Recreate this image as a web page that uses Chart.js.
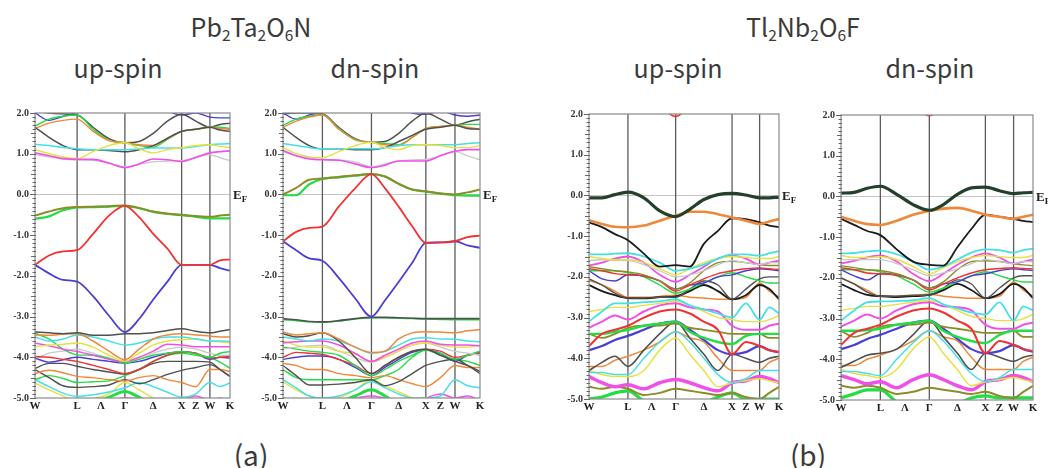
<!DOCTYPE html>
<html><head><meta charset="utf-8">
<script src="https://cdn.jsdelivr.net/npm/chart.js@4.4.0/dist/chart.umd.min.js"></script>
<style>
html,body{margin:0;padding:0;background:#fff;width:1048px;height:468px;overflow:hidden;position:relative;font-family:'Noto Sans CJK JP','Noto Sans',sans-serif;color:#3a3a3a;}
.t{position:absolute;white-space:nowrap;transform:translateX(-50%);line-height:1;}
.t sub{font-size:0.62em;vertical-align:-0.28em;line-height:0;}
canvas{position:absolute;}
</style></head><body>
<div class="t" style="left:251px;top:14px;font-size:25px">Pb<sub>2</sub>Ta<sub>2</sub>O<sub>6</sub>N</div>
<div class="t" style="left:118px;top:55px;font-size:25px">up-spin</div>
<div class="t" style="left:375px;top:55px;font-size:25px">dn-spin</div>
<div class="t" style="left:803px;top:14px;font-size:25px">Tl<sub>2</sub>Nb<sub>2</sub>O<sub>6</sub>F</div>
<div class="t" style="left:678px;top:55px;font-size:25px">up-spin</div>
<div class="t" style="left:930px;top:55px;font-size:25px">dn-spin</div>
<div class="t" style="left:251px;top:440px;font-size:28px">(a)</div>
<div class="t" style="left:808px;top:440px;font-size:28px">(b)</div>
<script>
// k-path labels and high-symmetry positions (W, L, Γ, X, W, K)
const xLabelText = ['W','L','Λ','Γ','Δ','X','Z','W','K'];
const symA_up = [0,21.6,46.1,75.2,89.7,100];
const symA_dn = [0,20.0,44.9,72.5,87.3,100];
const symB_up = [0,20.5,45.6,75.3,89.8,100];
const symB_dn = [0,20.5,46.0,75.2,89.9,100];
// each band: 15 energies (eV) at W,·,·,L,·,·,Γ,·,·,·,X,(Z),W,·,K

// ---- Pb2Ta2O6N up-spin
const aUp_blueTop = [2.0,1.82,1.92,2.02,2.2,2.3,2.3,2.3,2.2,2.05,1.95,2.0,1.9,1.88,1.88];
const aUp_gray2 = [2.05,2.0,1.98,1.95,1.65,1.37,1.27,1.3,1.5,1.8,1.97,1.8,1.65,1.72,1.75];
const aUp_green1 = [1.68,1.85,1.92,1.95,1.6,1.33,1.27,1.2,1.16,1.35,1.55,1.6,1.65,1.65,1.62];
const aUp_orange1 = [1.62,1.75,1.82,1.85,1.55,1.32,1.27,1.22,1.2,1.37,1.55,1.6,1.65,1.62,1.6];
const aUp_gray1 = [1.65,1.4,1.2,1.1,1.1,1.08,1.05,1.1,1.2,1.38,1.55,1.6,1.65,1.58,1.55];
const aUp_cyan1 = [1.23,1.2,1.15,1.12,1.1,1.1,1.1,1.12,1.14,1.14,1.14,1.18,1.22,1.24,1.25];
const aUp_yellow1 = [1.1,1.0,0.92,0.88,1.05,1.2,1.27,1.12,1.02,1.1,1.15,1.2,1.22,1.18,1.15];
const aUp_lgray1 = [0.98,0.92,0.87,0.85,0.84,0.76,0.68,0.74,0.8,0.82,0.83,0.9,0.98,0.9,0.83];
const aUp_pink1 = [1.02,0.95,0.88,0.86,0.86,0.77,0.66,0.75,0.87,0.85,0.81,0.91,1.02,1.05,1.07];
const aUp_olive = [-0.52,-0.42,-0.34,-0.31,-0.3,-0.29,-0.27,-0.33,-0.42,-0.47,-0.5,-0.53,-0.55,-0.52,-0.5];
const aUp_green = [-0.6,-0.54,-0.39,-0.32,-0.31,-0.3,-0.28,-0.34,-0.43,-0.48,-0.51,-0.55,-0.59,-0.59,-0.59];
const aUp_red = [-1.73,-1.5,-1.4,-1.37,-0.97,-0.52,-0.28,-0.56,-0.97,-1.33,-1.73,-1.73,-1.73,-1.62,-1.6];
const aUp_blue = [-1.73,-1.94,-2.1,-2.14,-2.5,-2.98,-3.38,-3.06,-2.58,-2.14,-1.73,-1.73,-1.73,-1.81,-1.87];
const aUp_gray3 = [-3.38,-3.4,-3.42,-3.4,-3.46,-3.46,-3.42,-3.42,-3.4,-3.34,-3.3,-3.36,-3.4,-3.36,-3.32];
const aUp_orange2 = [-3.45,-3.46,-3.43,-3.42,-3.6,-3.85,-4.06,-3.8,-3.55,-3.45,-3.42,-3.45,-3.48,-3.5,-3.5];
const aUp_cyan2 = [-3.5,-3.6,-3.55,-3.45,-3.5,-3.6,-3.7,-3.65,-3.55,-3.5,-3.5,-3.55,-3.6,-3.6,-3.61];
const aUp_yellow2 = [-3.74,-3.7,-3.68,-3.65,-3.75,-3.95,-4.1,-3.9,-3.7,-3.6,-3.57,-3.55,-3.6,-3.62,-3.65];
const aUp_pink2 = [-3.65,-3.72,-3.8,-3.86,-3.95,-4.05,-4.1,-4.0,-3.85,-3.68,-3.7,-3.74,-3.74,-3.74,-3.74];
const aUp_green2 = [-3.41,-3.55,-3.8,-3.94,-3.95,-4.02,-4.14,-4.05,-3.95,-3.9,-3.86,-3.92,-4.0,-3.9,-3.86];
const aUp_red2 = [-3.98,-4.0,-4.05,-4.1,-4.2,-4.3,-4.4,-4.3,-4.1,-3.95,-3.87,-3.9,-4.02,-4.0,-3.98];
const aUp_blue2 = [-4.02,-4.12,-4.06,-4.0,-4.05,-4.1,-4.14,-4.1,-4.0,-3.9,-3.86,-3.9,-4.05,-4.0,-4.02];
const aUp_lgray2 = [-4.05,-3.9,-3.85,-3.8,-3.9,-4.05,-4.14,-4.05,-3.9,-3.8,-3.75,-3.8,-3.9,-3.95,-3.95];
const aUp_gray4 = [-4.27,-4.15,-4.15,-4.22,-4.3,-4.36,-4.41,-4.3,-4.15,-4.1,-4.1,-4.1,-4.12,-4.3,-4.47];
const aUp_orange3 = [-4.4,-4.32,-4.38,-4.47,-4.5,-4.55,-4.58,-4.5,-4.45,-4.55,-4.62,-4.72,-4.3,-4.3,-4.35];
const aUp_gray5 = [-4.3,-4.5,-4.7,-4.74,-4.72,-4.68,-4.55,-4.65,-4.55,-4.42,-4.32,-4.25,-4.18,-4.3,-4.47];
const aUp_green3 = [-4.55,-4.45,-4.52,-4.62,-4.6,-4.58,-4.45,-4.3,-4.1,-3.95,-3.9,-3.95,-4.0,-4.12,-4.27];
const aUp_cyan3 = [-4.55,-4.72,-4.88,-4.96,-4.92,-4.85,-4.75,-4.62,-4.72,-4.86,-4.98,-4.9,-4.62,-4.72,-4.63];
const aUp_yellow3 = [-4.63,-4.8,-4.95,-5.1,-5.02,-4.9,-4.62,-4.8,-5.0,-5.1,-5.1,-5.1,-5.1,-5.1,-5.1];
const aUp_green4 = [-5.2,-5.2,-5.2,-5.2,-5.1,-4.98,-4.84,-4.98,-5.15,-5.2,-5.2,-5.2,-5.2,-5.2,-5.2];
const aUp_pink3 = [-5.1,-5.05,-5.1,-5.15,-5.1,-5.05,-5.0,-5.02,-5.1,-5.1,-5.05,-4.95,-5.05,-5.0,-5.1];

// ---- Pb2Ta2O6N dn-spin
const aDn_blueTop = [2.0,1.85,1.95,2.02,2.2,2.3,2.3,2.3,2.2,2.0,1.97,2.05,1.95,1.92,1.95];
const aDn_gray2 = [1.98,2.0,2.0,1.98,1.65,1.37,1.28,1.3,1.5,1.8,2.0,1.85,1.7,1.78,1.85];
const aDn_green1 = [1.7,1.85,1.92,1.96,1.62,1.34,1.28,1.25,1.22,1.4,1.62,1.67,1.7,1.72,1.72];
const aDn_orange1 = [1.65,1.8,1.9,1.95,1.6,1.35,1.28,1.22,1.2,1.4,1.62,1.67,1.7,1.65,1.6];
const aDn_gray1 = [1.65,1.4,1.2,1.12,1.12,1.1,1.1,1.15,1.3,1.45,1.6,1.65,1.7,1.62,1.6];
const aDn_cyan1 = [1.25,1.2,1.15,1.12,1.12,1.12,1.12,1.15,1.2,1.22,1.22,1.22,1.22,1.25,1.27];
const aDn_yellow1 = [1.15,1.0,0.92,0.9,1.05,1.2,1.28,1.15,1.1,1.2,1.22,1.2,1.15,1.15,1.2];
const aDn_lgray1 = [1.05,0.95,0.9,0.86,0.85,0.8,0.68,0.75,0.82,0.85,0.86,0.95,1.05,0.95,0.85];
const aDn_pink1 = [1.08,0.95,0.87,0.85,0.84,0.75,0.66,0.72,0.82,0.82,0.82,0.95,1.06,1.1,1.1];
const aDn_olive = [0.0,0.16,0.36,0.39,0.43,0.47,0.5,0.44,0.26,0.12,0.08,0.02,0.0,0.05,0.12];
const aDn_green = [-0.02,-0.02,0.25,0.38,0.42,0.46,0.5,0.44,0.26,0.12,0.07,0.02,-0.02,-0.03,-0.03];
const aDn_red = [-1.15,-0.92,-0.82,-0.79,-0.3,0.15,0.5,0.15,-0.3,-0.78,-1.19,-1.18,-1.15,-1.05,-1.01];
const aDn_blue = [-1.15,-1.37,-1.57,-1.63,-2.05,-2.55,-3.0,-2.6,-2.15,-1.68,-1.19,-1.18,-1.15,-1.25,-1.31];
const aDn_gray3 = [-3.05,-3.08,-3.12,-3.13,-3.1,-3.05,-3.02,-3.02,-3.03,-3.04,-3.05,-3.05,-3.05,-3.05,-3.05];
const aDn_green2 = [-3.08,-3.1,-3.13,-3.14,-3.11,-3.06,-3.03,-3.03,-3.04,-3.05,-3.06,-3.07,-3.08,-3.08,-3.08];
const aDn_orange2 = [-3.38,-3.45,-3.42,-3.4,-3.55,-3.75,-3.88,-3.85,-3.55,-3.4,-3.37,-3.38,-3.4,-3.35,-3.32];
const aDn_gray4 = [-3.42,-3.5,-3.47,-3.4,-3.6,-4.0,-4.4,-4.2,-4.0,-3.85,-3.8,-3.95,-4.1,-4.2,-4.35];
const aDn_cyan2 = [-3.5,-3.55,-3.6,-3.55,-3.6,-3.75,-3.9,-3.85,-3.7,-3.55,-3.52,-3.55,-3.56,-3.6,-3.62];
const aDn_pink2 = [-3.65,-3.62,-3.6,-3.6,-3.7,-3.9,-4.1,-3.95,-3.8,-3.65,-3.6,-3.68,-3.7,-3.7,-3.72];
const aDn_yellow2 = [-3.6,-3.7,-3.75,-3.75,-3.85,-3.92,-4.1,-4.0,-3.85,-3.7,-3.65,-3.7,-3.75,-3.75,-3.7];
const aDn_lgray2 = [-3.8,-3.75,-3.72,-3.7,-3.85,-4.0,-4.12,-4.0,-3.85,-3.7,-3.65,-3.75,-3.85,-3.9,-3.95];
const aDn_green3 = [-3.75,-3.8,-3.85,-3.88,-3.95,-4.2,-4.45,-4.3,-4.1,-3.95,-3.82,-3.9,-4.05,-3.95,-3.85];
const aDn_red2 = [-4.0,-3.88,-3.9,-3.93,-4.05,-4.2,-4.4,-4.2,-4.0,-3.85,-3.8,-3.85,-4.0,-3.95,-3.9];
const aDn_blue2 = [-4.05,-4.0,-3.97,-3.97,-4.05,-4.25,-4.45,-4.25,-4.05,-3.88,-3.82,-3.9,-4.1,-3.95,-3.88];
const aDn_gray5 = [-4.2,-4.45,-4.68,-4.68,-4.66,-4.62,-4.55,-4.7,-4.6,-4.4,-4.2,-4.1,-4.05,-4.2,-4.4];
const aDn_orange3 = [-4.15,-4.2,-4.3,-4.3,-4.4,-4.45,-4.5,-4.45,-4.55,-4.65,-4.72,-4.5,-4.2,-4.25,-4.25];
const aDn_green4 = [-4.3,-4.5,-4.55,-4.55,-4.55,-4.55,-4.55,-4.45,-4.3,-4.0,-3.82,-3.95,-4.05,-4.1,-4.2];
const aDn_cyan3 = [-4.55,-4.75,-4.95,-5.0,-4.95,-4.8,-4.6,-4.75,-4.9,-5.0,-5.0,-4.95,-4.55,-4.7,-4.75];
const aDn_yellow3 = [-4.6,-4.8,-4.95,-5.05,-5.0,-4.8,-4.55,-4.7,-4.85,-5.0,-5.1,-5.1,-5.1,-5.1,-5.0];
const aDn_green5 = [-5.2,-5.2,-5.2,-5.2,-5.1,-4.95,-4.8,-4.95,-5.15,-5.2,-5.2,-5.2,-5.2,-5.2,-5.2];
const aDn_pink3 = [-5.0,-5.05,-5.1,-5.1,-5.05,-5.0,-4.95,-5.0,-5.05,-5.1,-5.0,-4.9,-5.0,-4.95,-5.05];

// ---- Tl2Nb2O6F up-spin
const bUp_red0 = [2.6,2.6,2.6,2.6,2.5,2.2,1.94,2.2,2.5,2.6,2.6,2.6,2.6,2.6,2.6];
const bUp_dark = [-0.06,-0.06,0.02,0.08,-0.06,-0.38,-0.52,-0.34,-0.1,0.02,0.05,0.01,-0.06,-0.06,-0.04];
const bUp_orange = [-0.61,-0.7,-0.77,-0.78,-0.74,-0.62,-0.5,-0.4,-0.4,-0.46,-0.54,-0.62,-0.7,-0.64,-0.58];
const bUp_black = [-0.66,-0.78,-0.95,-1.1,-1.43,-1.75,-1.71,-1.75,-1.19,-0.87,-0.56,-0.58,-0.66,-0.74,-0.78];
const bUp_cyan = [-1.45,-1.45,-1.43,-1.42,-1.5,-1.65,-1.85,-1.8,-1.7,-1.55,-1.45,-1.45,-1.48,-1.42,-1.37];
const bUp_yellow = [-1.5,-1.55,-1.58,-1.58,-1.65,-1.8,-1.95,-1.8,-1.65,-1.55,-1.5,-1.52,-1.55,-1.55,-1.5];
const bUp_lgray = [-1.6,-1.58,-1.6,-1.6,-1.7,-1.85,-2.0,-1.95,-1.85,-1.7,-1.6,-1.65,-1.7,-1.65,-1.65];
const bUp_pink = [-1.72,-1.65,-1.55,-1.5,-1.65,-1.95,-2.12,-1.95,-1.75,-1.55,-1.48,-1.55,-1.7,-1.65,-1.6];
const bUp_olive = [-1.75,-1.8,-1.85,-1.88,-1.95,-2.1,-2.3,-2.15,-1.85,-1.65,-1.62,-1.65,-1.7,-1.72,-1.72];
const bUp_red = [-1.8,-1.85,-1.92,-1.95,-1.98,-2.1,-2.35,-2.2,-2.05,-1.92,-1.85,-1.8,-1.78,-1.8,-1.82];
const bUp_blue = [-1.85,-2.05,-2.1,-1.95,-1.98,-2.1,-2.3,-2.2,-2.15,-2.0,-1.95,-1.85,-1.8,-1.82,-1.85];
const bUp_green = [-1.85,-1.85,-1.85,-1.9,-2.0,-2.2,-2.4,-2.3,-2.15,-2.0,-1.9,-2.0,-2.1,-2.15,-2.15];
const bUp_gray = [-2.05,-2.2,-2.4,-2.52,-2.52,-2.5,-2.5,-2.3,-2.1,-2.2,-2.55,-2.3,-2.05,-2.0,-2.0];
const bUp_black2 = [-2.2,-2.35,-2.45,-2.52,-2.53,-2.5,-2.48,-2.35,-2.2,-2.35,-2.55,-2.45,-2.2,-2.3,-2.55];
const bUp_orange2 = [-2.08,-2.2,-2.35,-2.5,-2.5,-2.48,-2.45,-2.5,-2.52,-2.55,-2.55,-2.5,-2.15,-2.35,-2.5];
const bUp_cyan2 = [-3.1,-2.85,-2.65,-2.65,-2.62,-2.6,-2.55,-2.7,-2.8,-2.9,-3.0,-2.65,-3.05,-2.75,-2.9];
const bUp_yellow2 = [-2.85,-2.8,-2.75,-2.75,-2.7,-2.65,-2.6,-2.7,-2.85,-3.0,-3.05,-3.1,-3.1,-3.05,-2.95];
const bUp_pink2 = [-3.25,-3.1,-2.95,-3.05,-2.85,-2.7,-2.65,-2.75,-2.8,-2.85,-3.2,-3.3,-3.3,-3.2,-3.15];
const bUp_red2 = [-3.7,-3.4,-3.3,-3.2,-3.0,-2.85,-2.8,-2.9,-3.1,-3.3,-3.9,-3.6,-3.7,-3.8,-3.85];
const bUp_green2 = [-3.4,-3.4,-3.35,-3.3,-3.2,-3.15,-3.1,-3.35,-3.5,-3.6,-3.65,-3.45,-3.4,-3.4,-3.4];
const bUp_olive2 = [-3.4,-3.5,-3.4,-3.25,-3.2,-3.2,-3.15,-3.25,-3.3,-3.35,-3.4,-3.4,-3.4,-3.5,-3.5];
const bUp_blue2 = [-3.8,-3.7,-3.55,-3.45,-3.3,-3.15,-3.1,-3.3,-3.55,-3.8,-3.9,-3.85,-3.7,-3.8,-3.85];
const bUp_black3 = [-4.3,-4.1,-3.95,-4.2,-3.8,-3.4,-3.1,-3.5,-3.9,-4.3,-3.9,-4.0,-4.1,-4.0,-3.95];
const bUp_cyan3 = [-4.35,-4.35,-4.4,-4.4,-4.0,-3.6,-3.35,-3.6,-4.0,-4.4,-4.6,-4.5,-4.3,-4.3,-4.3];
const bUp_yellow3 = [-4.3,-4.4,-4.45,-4.45,-4.3,-3.8,-3.5,-3.9,-4.3,-4.7,-4.6,-4.55,-4.5,-4.55,-4.6];
const bUp_orange3 = [-4.2,-4.2,-4.05,-3.95,-3.8,-3.6,-3.35,-3.5,-3.6,-4.0,-4.3,-4.3,-4.3,-4.1,-4.0];
const bUp_pink3 = [-4.45,-4.6,-4.7,-4.65,-4.75,-4.6,-4.52,-4.6,-4.72,-4.8,-4.6,-4.55,-4.45,-4.5,-4.6];
const bUp_olive3 = [-4.7,-4.75,-4.7,-4.75,-4.9,-4.85,-4.75,-4.8,-4.85,-4.9,-4.85,-4.95,-5.0,-4.85,-4.7];
const bUp_green3 = [-5.0,-4.95,-4.85,-4.8,-5.05,-5.2,-5.2,-5.2,-5.1,-4.95,-4.85,-5.0,-5.0,-5.0,-5.0];

// ---- Tl2Nb2O6F dn-spin
const bDn_red0 = [2.6,2.6,2.6,2.6,2.5,2.25,1.98,2.25,2.5,2.6,2.6,2.6,2.6,2.6,2.6];
const bDn_dark = [0.08,0.1,0.2,0.25,0.05,-0.2,-0.34,-0.2,0.05,0.21,0.23,0.14,0.07,0.09,0.1];
const bDn_orange = [-0.5,-0.6,-0.68,-0.7,-0.6,-0.45,-0.35,-0.3,-0.28,-0.35,-0.45,-0.5,-0.55,-0.5,-0.45];
const bDn_black = [-0.55,-0.7,-0.85,-0.95,-1.3,-1.6,-1.68,-1.7,-1.25,-0.8,-0.45,-0.5,-0.55,-0.6,-0.63];
const bDn_cyan = [-1.4,-1.39,-1.35,-1.33,-1.42,-1.6,-1.8,-1.72,-1.55,-1.38,-1.3,-1.32,-1.38,-1.32,-1.28];
const bDn_yellow = [-1.45,-1.5,-1.5,-1.48,-1.55,-1.72,-1.9,-1.75,-1.6,-1.5,-1.45,-1.48,-1.5,-1.5,-1.45];
const bDn_lgray = [-1.55,-1.55,-1.55,-1.55,-1.65,-1.8,-1.95,-1.88,-1.78,-1.65,-1.55,-1.6,-1.65,-1.6,-1.6];
const bDn_pink = [-1.65,-1.58,-1.5,-1.45,-1.6,-1.9,-2.08,-1.9,-1.68,-1.5,-1.4,-1.5,-1.65,-1.6,-1.55];
const bDn_olive = [-1.7,-1.75,-1.8,-1.82,-1.9,-2.05,-2.25,-2.1,-1.8,-1.6,-1.58,-1.6,-1.65,-1.68,-1.7];
const bDn_red = [-1.75,-1.8,-1.88,-1.9,-1.93,-2.05,-2.3,-2.15,-2.0,-1.88,-1.8,-1.77,-1.75,-1.77,-1.78];
const bDn_blue = [-1.8,-1.95,-2.05,-1.9,-1.93,-2.05,-2.25,-2.15,-2.1,-1.95,-1.9,-1.82,-1.78,-1.8,-1.82];
const bDn_green = [-1.8,-1.8,-1.8,-1.85,-1.95,-2.15,-2.35,-2.25,-2.1,-1.95,-1.85,-1.95,-2.05,-2.1,-2.1];
const bDn_gray = [-2.0,-2.15,-2.35,-2.45,-2.45,-2.43,-2.42,-2.25,-2.05,-2.15,-2.5,-2.25,-2.0,-1.95,-1.95];
const bDn_black2 = [-2.15,-2.3,-2.42,-2.45,-2.47,-2.45,-2.42,-2.3,-2.15,-2.3,-2.5,-2.4,-2.15,-2.25,-2.5];
const bDn_orange2 = [-2.0,-2.15,-2.3,-2.45,-2.45,-2.42,-2.4,-2.45,-2.48,-2.5,-2.5,-2.45,-2.1,-2.3,-2.45];
const bDn_cyan2 = [-3.05,-2.8,-2.6,-2.58,-2.57,-2.55,-2.5,-2.65,-2.75,-2.85,-2.9,-2.6,-3.05,-2.7,-2.8];
const bDn_yellow2 = [-2.8,-2.75,-2.7,-2.7,-2.65,-2.6,-2.55,-2.65,-2.8,-2.95,-3.0,-3.05,-3.05,-3.0,-2.9];
const bDn_pink2 = [-3.2,-3.05,-2.9,-3.0,-2.8,-2.65,-2.6,-2.7,-2.72,-2.8,-3.15,-3.25,-3.25,-3.15,-3.1];
const bDn_red2 = [-3.65,-3.35,-3.25,-3.15,-2.95,-2.8,-2.75,-2.85,-3.05,-3.25,-3.85,-3.55,-3.65,-3.75,-3.8];
const bDn_green2 = [-3.3,-3.3,-3.28,-3.25,-3.15,-3.1,-3.05,-3.3,-3.45,-3.55,-3.6,-3.4,-3.3,-3.3,-3.3];
const bDn_olive2 = [-3.3,-3.45,-3.35,-3.2,-3.15,-3.15,-3.1,-3.2,-3.25,-3.3,-3.35,-3.35,-3.3,-3.45,-3.45];
const bDn_blue2 = [-3.75,-3.65,-3.5,-3.4,-3.25,-3.1,-3.05,-3.25,-3.5,-3.75,-3.85,-3.8,-3.65,-3.75,-3.82];
const bDn_black3 = [-4.2,-4.05,-3.9,-3.85,-3.75,-3.4,-3.05,-3.45,-3.85,-4.25,-3.85,-3.95,-4.05,-3.95,-3.9];
const bDn_cyan3 = [-4.3,-4.3,-4.35,-4.4,-4.0,-3.6,-3.3,-3.55,-3.95,-4.35,-4.55,-4.45,-4.25,-4.25,-4.25];
const bDn_yellow3 = [-4.25,-4.35,-4.4,-4.45,-4.25,-3.75,-3.45,-3.85,-4.25,-4.65,-4.55,-4.5,-4.45,-4.5,-4.55];
const bDn_orange3 = [-4.15,-4.15,-4.0,-3.9,-3.75,-3.55,-3.3,-3.45,-3.55,-3.95,-4.25,-4.25,-4.25,-4.05,-3.95];
const bDn_pink3 = [-4.4,-4.5,-4.6,-4.55,-4.7,-4.5,-4.38,-4.5,-4.65,-4.75,-4.55,-4.5,-4.4,-4.45,-4.55];
const bDn_olive3 = [-4.65,-4.7,-4.65,-4.7,-4.85,-4.8,-4.7,-4.75,-4.8,-4.85,-4.8,-4.9,-4.95,-4.8,-4.65];
const bDn_green3 = [-4.95,-4.85,-4.75,-4.75,-5.05,-5.2,-5.2,-5.2,-5.1,-4.95,-4.9,-4.95,-4.95,-4.95,-4.95];

// ---------- styles
const C = {red:'#f03232', blue:'#4a3fd2', green:'#22dd44', olive:'#8c8c28', orange:'#f0883a',
  pink:'#f050e8', cyan:'#44e0e8', yellow:'#e6e040', lgray:'#c8c8c8', gray:'#505050', black:'#1a1a1a', dark:'#25402a'};

function kx(sym){
  const seg=(a,b,n)=>Array.from({length:n},(_,i)=>a+(b-a)*i/n);
  return [...seg(sym[0],sym[1],3),...seg(sym[1],sym[2],3),...seg(sym[2],sym[3],4),...seg(sym[3],sym[4],2),...seg(sym[4],sym[5],2),sym[5]];
}

// bands listed bottom-of-stack first; the last one is painted on top
const panels = [
 {plotLeft:35, plotTop:109, plotW:195, plotH:289, sym:symA_up, bands:[
  [aUp_pink3,C.pink,1.5],[aUp_green4,C.green,3],[aUp_yellow3,C.yellow,1.4],[aUp_cyan3,C.cyan,1.5],[aUp_green3,C.green,1.4],
  [aUp_gray5,C.gray,1.4],[aUp_orange3,C.orange,1.4],[aUp_gray4,C.gray,1.4],[aUp_lgray2,C.lgray,1.3],[aUp_blue2,C.blue,1.4],
  [aUp_red2,C.red,1.4],[aUp_green2,C.green,1.4],[aUp_pink2,C.pink,1.5],[aUp_yellow2,C.yellow,1.4],[aUp_cyan2,C.cyan,1.5],
  [aUp_orange2,C.orange,1.5],[aUp_gray3,C.gray,1.5],
  [aUp_blueTop,C.blue,1.4],[aUp_gray2,C.gray,1.5],[aUp_green1,C.green,1.4],[aUp_orange1,C.orange,1.4],[aUp_gray1,C.gray,1.5],
  [aUp_cyan1,C.cyan,1.5],[aUp_yellow1,C.yellow,1.4],[aUp_lgray1,C.lgray,1.3],[aUp_pink1,C.pink,1.6],
  [aUp_green,C.green,2.2],[aUp_olive,C.olive,2.0],[aUp_blue,C.blue,1.8],[aUp_red,C.red,1.8]]},
 {plotLeft:283, plotTop:109, plotW:197, plotH:289, sym:symA_dn, bands:[
  [aDn_pink3,C.pink,1.5],[aDn_green5,C.green,3],[aDn_yellow3,C.yellow,1.4],[aDn_cyan3,C.cyan,1.5],[aDn_green4,C.green,1.4],
  [aDn_orange3,C.orange,1.4],[aDn_gray5,C.gray,1.4],[aDn_blue2,C.blue,1.4],[aDn_red2,C.red,1.4],[aDn_green3,C.green,1.4],
  [aDn_lgray2,C.lgray,1.3],[aDn_yellow2,C.yellow,1.4],[aDn_pink2,C.pink,1.5],[aDn_cyan2,C.cyan,1.5],[aDn_gray4,C.gray,1.5],
  [aDn_orange2,C.orange,1.5],[aDn_green2,C.green,1.5],[aDn_gray3,C.gray,1.6],
  [aDn_blueTop,C.blue,1.4],[aDn_gray2,C.gray,1.5],[aDn_green1,C.green,1.4],[aDn_orange1,C.orange,1.4],[aDn_gray1,C.gray,1.5],
  [aDn_cyan1,C.cyan,1.5],[aDn_yellow1,C.yellow,1.4],[aDn_lgray1,C.lgray,1.3],[aDn_pink1,C.pink,1.6],
  [aDn_green,C.green,2.2],[aDn_olive,C.olive,2.0],[aDn_blue,C.blue,1.8],[aDn_red,C.red,1.8]]},
 {plotLeft:589, plotTop:110, plotW:190, plotH:289, sym:symB_up, bands:[
  [bUp_green3,C.green,3.2],[bUp_olive3,C.olive,2],[bUp_pink3,C.pink,3.5],[bUp_orange3,C.orange,1.5],[bUp_yellow3,C.yellow,1.5],
  [bUp_cyan3,C.cyan,1.5],[bUp_black3,C.gray,1.6],[bUp_blue2,C.blue,2.2],[bUp_olive2,C.olive,1.8],[bUp_green2,C.green,2.4],
  [bUp_red2,C.red,2],[bUp_pink2,C.pink,2],[bUp_yellow2,C.yellow,1.4],[bUp_cyan2,C.cyan,1.8],
  [bUp_orange2,C.orange,1.5],[bUp_black2,C.black,1.8],[bUp_gray,C.gray,1.4],[bUp_green,C.green,1.4],[bUp_blue,C.blue,1.4],
  [bUp_red,C.red,1.4],[bUp_olive,C.olive,1.4],[bUp_pink,C.pink,1.8],[bUp_lgray,C.lgray,1.3],[bUp_yellow,C.yellow,1.4],[bUp_cyan,C.cyan,1.8],
  [bUp_black,C.black,1.8],[bUp_orange,C.orange,2.6],[bUp_dark,C.dark,3.2],[bUp_red0,C.red,1.5]]},
 {plotLeft:841, plotTop:111, plotW:192, plotH:289, sym:symB_dn, bands:[
  [bDn_green3,C.green,3.2],[bDn_olive3,C.olive,2],[bDn_pink3,C.pink,3.5],[bDn_orange3,C.orange,1.5],[bDn_yellow3,C.yellow,1.5],
  [bDn_cyan3,C.cyan,1.5],[bDn_black3,C.gray,1.6],[bDn_blue2,C.blue,2.2],[bDn_olive2,C.olive,1.8],[bDn_green2,C.green,2.4],
  [bDn_red2,C.red,2],[bDn_pink2,C.pink,2],[bDn_yellow2,C.yellow,1.4],[bDn_cyan2,C.cyan,1.8],
  [bDn_orange2,C.orange,1.5],[bDn_black2,C.black,1.8],[bDn_gray,C.gray,1.4],[bDn_green,C.green,1.4],[bDn_blue,C.blue,1.4],
  [bDn_red,C.red,1.4],[bDn_olive,C.olive,1.4],[bDn_pink,C.pink,1.8],[bDn_lgray,C.lgray,1.3],[bDn_yellow,C.yellow,1.4],[bDn_cyan,C.cyan,1.8],
  [bDn_black,C.black,1.8],[bDn_orange,C.orange,2.6],[bDn_dark,C.dark,3.2],[bDn_red0,C.red,1.5]]}
];

function makePanel(p){
  const yw=35, padTop=8, padRight=24, xh=18;
  const W=yw+p.plotW+padRight, H=padTop+p.plotH+xh;
  const cv=document.createElement('canvas');
  cv.width=W; cv.height=H;
  cv.style.left=(p.plotLeft-yw)+'px'; cv.style.top=(p.plotTop-padTop)+'px';
  cv.style.width=W+'px'; cv.style.height=H+'px';
  document.body.appendChild(cv);
  const xs=kx(p.sym), s=p.sym, n=p.bands.length;
  const labelPos=[s[0],s[1],(s[1]+s[2])/2,s[2],(s[2]+s[3])/2,s[3],(s[3]+s[4])/2,s[4],s[5]];
  // Chart.js paints lower "order" on top, so give later bands a lower order
  const datasets=p.bands.map(([vals,col,w],j)=>({
    data: vals.map((y,i)=>({x:xs[i],y})), borderColor:col, borderWidth:w, pointRadius:0,
    cubicInterpolationMode:'monotone', clip:0, fill:false, order:n-j
  }));
  const deco={
    id:'deco',
    beforeDatasetsDraw(chart){
      const {ctx,chartArea:a,scales:{x,y}}=chart;
      ctx.save();
      ctx.strokeStyle='#c4c4c4'; ctx.lineWidth=1;
      const y0=Math.round(y.getPixelForValue(0))+0.5;
      ctx.beginPath(); ctx.moveTo(a.left,y0); ctx.lineTo(a.right,y0); ctx.stroke();
      ctx.strokeStyle='#5c5c5c'; ctx.lineWidth=1.3;
      for(let i=1;i<5;i++){const px=x.getPixelForValue(s[i]); ctx.beginPath(); ctx.moveTo(px,a.top); ctx.lineTo(px,a.bottom); ctx.stroke();}
      ctx.restore();
    },
    afterDatasetsDraw(chart){
      const {ctx,chartArea:a,scales:{y}}=chart;
      ctx.save();
      ctx.strokeStyle='#8a8a8a'; ctx.lineWidth=1.2;
      ctx.strokeRect(a.left,a.top,a.right-a.left,a.bottom-a.top);
      ctx.strokeStyle='#666'; ctx.lineWidth=1;
      for(let i=-50;i<=20;i++){
        const py=Math.round(y.getPixelForValue(i/10))+0.5;
        const len = i%10===0 ? 5 : (i%5===0 ? 4 : 2.5);
        ctx.beginPath(); ctx.moveTo(a.left-len,py); ctx.lineTo(a.left+1,py); ctx.stroke();
      }
      const y0=y.getPixelForValue(0);
      ctx.fillStyle='#222'; ctx.textBaseline='alphabetic';
      ctx.font='bold 13px "Liberation Serif"';
      ctx.fillText('E',a.right+3,y0+5);
      const wE=ctx.measureText('E').width;
      ctx.font='bold 9px "Liberation Serif"';
      ctx.fillText('F',a.right+3+wE,y0+8);
      ctx.restore();
    }
  };
  new Chart(cv,{
    type:'line',
    data:{datasets},
    options:{
      responsive:false, animation:false, devicePixelRatio:1, events:[],
      layout:{padding:{top:padTop,right:padRight,left:0,bottom:0}},
      plugins:{legend:{display:false},tooltip:{enabled:false}},
      scales:{
        x:{type:'linear',min:0,max:100,grid:{display:false,drawTicks:false},border:{display:false},
          afterBuildTicks:sc=>{sc.ticks=labelPos.map(v=>({value:v}));},
          afterFit:sc=>{sc.height=xh;},
          ticks:{autoSkip:false,maxRotation:0,minRotation:0,padding:2,color:'#222',
            font:{family:'Liberation Serif',size:11,weight:'bold'},
            callback:(v,i)=>xLabelText[i]}},
        y:{min:-5,max:2,grid:{display:false,drawTicks:false},border:{display:false},
          afterFit:sc=>{sc.width=yw;},
          ticks:{stepSize:1,padding:6,color:'#333',font:{family:'Liberation Serif',size:10,weight:'bold'},
            callback:v=>Number(v).toFixed(1)}}
      }
    },
    plugins:[deco]
  });
}
panels.forEach(makePanel);
</script>
</body></html>
